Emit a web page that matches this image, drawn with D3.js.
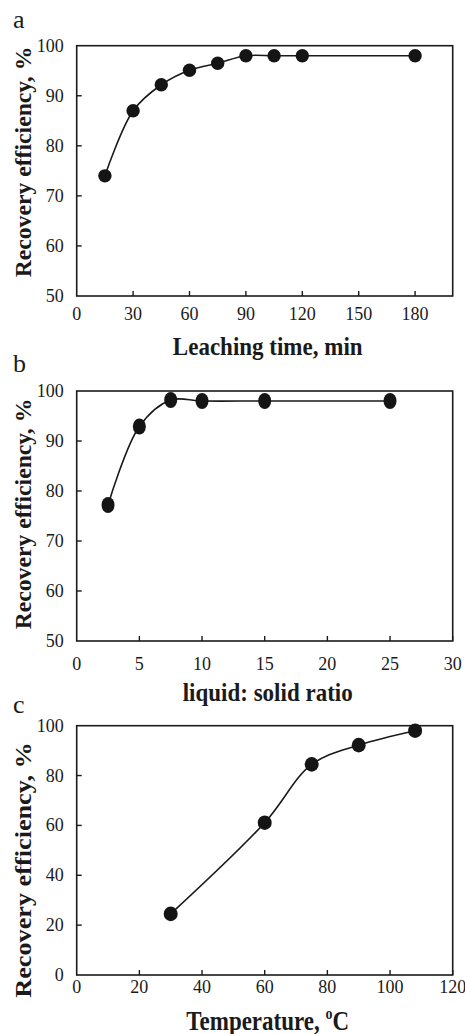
<!DOCTYPE html>
<html>
<head>
<meta charset="utf-8">
<script src="https://cdn.jsdelivr.net/npm/d3@7"></script>
</head>
<body style="margin:0">
<svg id="chart" width="465" height="1034"></svg>
<script>
// ---- Data ----
const timeMin = [15, 30, 45, 60, 75, 90, 105, 120, 180];
const recoveryTime = [74, 87, 92.2, 95.1, 96.5, 98, 98, 98, 98];
const timeTicks = [0, 30, 60, 90, 120, 150, 180];
const recoveryTicksAB = [50, 60, 70, 80, 90, 100];

const lsRatio = [2.5, 5, 7.5, 10, 15, 25];
const recoveryRatio = [77.2, 92.9, 98.2, 98, 98, 98];
const ratioTicks = [0, 5, 10, 15, 20, 25, 30];

const tempC = [30, 60, 75, 90, 108];
const recoveryTemp = [24.5, 61.1, 84.5, 92.2, 98];
const tempTicks = [0, 20, 40, 60, 80, 100, 120];
const recoveryTicksC = [0, 20, 40, 60, 80, 100];

const panelLetters = ["a", "b", "c"];
const xTitles = ["Leaching time, min", "liquid: solid ratio", "Temperature, "];
const yTitle = "Recovery efficiency, %";

// ---- Drawing ----
const FONT = "Liberation Serif";
const INK = "#1a1a1a";
const svg = d3.select("#chart");

const left = 76.7, right = 452.7;

const panels = [
  { letter: panelLetters[0], xs: timeMin, ys: recoveryTime, xDom: [0, 200], yDom: [50, 100],
    xTicks: timeTicks, yTicks: recoveryTicksAB, top: 45.7, bottom: 296,
    xLabelDy: 24, xTitle: xTitles[0], xTitleDy: 59, letterY: 28, yTitleC: 162, rx: 6.7, ry: 6.7,
    yStretch: 1.03, xStretch: 1.05 },
  { letter: panelLetters[1], xs: lsRatio, ys: recoveryRatio, xDom: [0, 30], yDom: [50, 100],
    xTicks: ratioTicks, yTicks: recoveryTicksAB, top: 391, bottom: 641,
    xLabelDy: 29, xTitle: xTitles[1], xTitleDy: 60, letterY: 372, yTitleC: 514, rx: 6.5, ry: 8,
    yStretch: 1.03, xStretch: 1.05 },
  { letter: panelLetters[2], xs: tempC, ys: recoveryTemp, xDom: [0, 120], yDom: [0, 100],
    xTicks: tempTicks, yTicks: recoveryTicksC, top: 725.7, bottom: 975,
    xLabelDy: 18, xTitle: xTitles[2], xTitleDy: 55, letterY: 713, yTitleC: 870, rx: 7, ry: 7.3,
    yStretch: 1.14, xStretch: 1.18, degree: true }
];

panels.forEach(p => {
  const x = d3.scaleLinear().domain(p.xDom).range([left, right]);
  const y = d3.scaleLinear().domain(p.yDom).range([p.bottom, p.top]);
  const g = svg.append("g");

  // frame
  g.append("rect")
    .attr("x", left).attr("y", p.top)
    .attr("width", right - left).attr("height", p.bottom - p.top)
    .attr("fill", "none").attr("stroke", INK).attr("stroke-width", 1.6);

  // x ticks (inward) and labels
  g.selectAll("line.xt").data(p.xTicks.filter(d => d !== p.xDom[0])).enter().append("line")
    .attr("x1", d => x(d)).attr("x2", d => x(d))
    .attr("y1", p.bottom).attr("y2", p.bottom - 5)
    .attr("stroke", INK).attr("stroke-width", 1.4);
  g.selectAll("text.xl").data(p.xTicks).enter().append("text")
    .attr("x", d => x(d)).attr("y", p.bottom + p.xLabelDy)
    .attr("text-anchor", "middle")
    .attr("font-family", FONT).attr("font-size", 18).attr("fill", INK)
    .text(d => d);

  // y ticks (inward) and labels
  g.selectAll("line.yt").data(p.yTicks.filter(d => d !== p.yDom[0] && d !== p.yDom[1])).enter().append("line")
    .attr("x1", left).attr("x2", left + 5)
    .attr("y1", d => y(d)).attr("y2", d => y(d))
    .attr("stroke", INK).attr("stroke-width", 1.4);
  g.selectAll("text.yl").data(p.yTicks).enter().append("text")
    .attr("x", left - 13).attr("y", d => y(d) + 6)
    .attr("text-anchor", "end")
    .attr("font-family", FONT).attr("font-size", 18).attr("fill", INK)
    .text(d => d);

  // line
  const pts = p.xs.map((v, i) => [v, p.ys[i]]);
  const line = d3.line().x(d => x(d[0])).y(d => y(d[1])).curve(d3.curveCatmullRom.alpha(0.5));
  g.append("path").datum(pts).attr("d", line)
    .attr("fill", "none").attr("stroke", INK).attr("stroke-width", 1.6);

  // markers
  g.selectAll("ellipse.m").data(pts).enter().append("ellipse")
    .attr("cx", d => x(d[0])).attr("cy", d => y(d[1]))
    .attr("rx", p.rx).attr("ry", p.ry).attr("fill", "#151515");

  // panel letter
  g.append("text").attr("x", 13).attr("y", p.letterY)
    .attr("font-family", FONT).attr("font-size", 26).attr("fill", INK)
    .text(p.letter);

  // x title
  const xt = g.append("text")
    .attr("transform", `translate(${(left + right) / 2 + 3},${p.bottom + p.xTitleDy}) scale(1,${p.xStretch})`)
    .attr("text-anchor", "middle")
    .attr("font-family", FONT).attr("font-size", 23).attr("font-weight", "bold").attr("fill", INK)
    .text(p.xTitle);
  if (p.degree) {
    xt.append("tspan").attr("dy", -9).attr("font-size", 14).text("o");
    xt.append("tspan").attr("dy", 9).text("C");
  }

  // y title
  g.append("text")
    .attr("transform", `translate(31,${p.yTitleC}) rotate(-90) scale(${p.yStretch},1)`)
    .attr("text-anchor", "middle")
    .attr("font-family", FONT).attr("font-size", 23).attr("font-weight", "bold").attr("fill", INK)
    .text(yTitle);
});
</script>
</body>
</html>
